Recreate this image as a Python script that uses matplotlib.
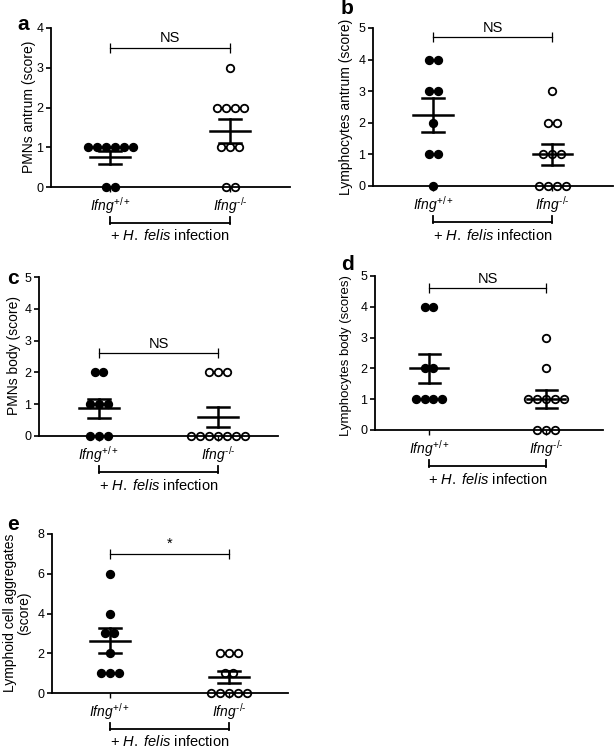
import numpy as np
import matplotlib
matplotlib.use("Agg")
import matplotlib.pyplot as plt
from matplotlib import transforms
from matplotlib.lines import Line2D

plt.rcParams['font.family'] = ['Liberation Sans', 'DejaVu Sans']
plt.rcParams['mathtext.fontset'] = 'custom'
plt.rcParams['mathtext.rm'] = 'Liberation Sans'
plt.rcParams['mathtext.it'] = 'Liberation Sans:italic'
plt.rcParams['mathtext.bf'] = 'Liberation Sans:bold'

# ---------------- data ----------------
groups = ["$\\mathit{Ifng}^{\\mathit{+/+}}$", "$\\mathit{Ifng}^{\\mathit{\u2010/\u2010}}$"]
infection_label = r"+ $\mathit{H.}$ $\mathit{felis}$ infection"

a_wt = [1, 1, 1, 1, 1, 1, 0, 0]
a_ko = [3, 2, 2, 2, 2, 1, 1, 1, 0, 0]
b_wt = [4, 4, 3, 3, 2, 1, 1, 0]
b_ko = [3, 2, 2, 1, 1, 1, 0, 0, 0, 0]
c_wt = [2, 2, 1, 1, 1, 0, 0, 0]
c_ko = [2, 2, 2, 0, 0, 0, 0, 0, 0, 0]
d_wt = [4, 4, 2, 2, 1, 1, 1, 1]
d_ko = [3, 2, 1, 1, 1, 1, 1, 0, 0, 0]
e_wt = [6, 4, 3, 3, 2, 1, 1, 1]
e_ko = [2, 2, 2, 1, 1, 0, 0, 0, 0, 0]

ylabels = ["PMNs antrum (score)", "Lymphocytes antrum (score)", "PMNs body (score)",
           "Lymphocytes body (scores)", "Lymphoid cell aggregates\n(score)"]
panel_letters = ["a", "b", "c", "d", "e"]
sig_labels = ["NS", "NS", "NS", "NS", "*"]
sig_heights = [3.5, 4.7, 2.6, 4.6, 7.0]
ymaxes = [4, 5, 5, 5, 8]
ytick_steps = [1, 1, 1, 1, 2]

W, H = 614, 749
fig = plt.figure(figsize=(W / 100, H / 100), dpi=100)

# axes pixel boxes: left, right, bottom(y of 0), top ; xlim
boxes = [
    (51, 290, 187, 28, (0.508, 2.5)),
    (373, 613, 186, 28, (0.496, 2.51)),
    (39, 278, 436, 277, (0.496, 2.504)),
    (375, 603, 430, 276, (0.538, 2.487)),
    (52, 288, 693, 534, (0.513, 2.496)),
]
ylabel_x = [29, 346, 14, 346, 17]
ylabel_y = [107, 107, 356, 356, 613]
ylabel_size = [10, 10, 10, 9.5, 10]
letter_pos = [(23, 25), (347, 9), (13, 278), (347, 265), (13, 524)]

datasets = [(a_wt, a_ko), (b_wt, b_ko), (c_wt, c_ko), (d_wt, d_ko), (e_wt, e_ko)]


def swarm_offsets(vals, d=0.075):
    vals = np.asarray(vals, dtype=float)
    offs = np.zeros_like(vals)
    for v in np.unique(vals):
        idx = np.where(vals == v)[0]
        n = len(idx)
        offs[idx] = (np.arange(n) - (n - 1) / 2) * d
    return offs


for i, ((wt, ko), box) in enumerate(zip(datasets, boxes)):
    l, r, b0, t, xl = box
    ax = fig.add_axes([l / W, 1 - b0 / H, (r - l) / W, (b0 - t) / H])
    ax.set_xlim(*xl)
    ax.set_ylim(0, ymaxes[i])
    for s in ['top', 'right']:
        ax.spines[s].set_visible(False)
    for s in ['left', 'bottom']:
        ax.spines[s].set_linewidth(1.3)
    ax.set_yticks(np.arange(0, ymaxes[i] + 0.01, ytick_steps[i]))
    ax.set_xticks([1, 2])
    ax.set_xticklabels(groups, fontsize=10)
    ax.tick_params(axis='y', length=3.5, width=1.2, labelsize=9, pad=2)
    ax.tick_params(axis='x', length=3.5, width=1.0, pad=2)

    for k, (vals, filled) in enumerate([(wt, True), (ko, False)]):
        xpos = 1 + k
        xs = xpos + swarm_offsets(vals)
        ax.plot(xs, vals, 'o', ms=5.4, mfc='black' if filled else 'none',
                mec='black', mew=1.3, ls='none', clip_on=False, zorder=3)
        arr = np.asarray(vals, float)
        m = arr.mean()
        sem = arr.std(ddof=1) / np.sqrt(len(arr))
        ax.plot([xpos - 0.165, xpos + 0.165], [m, m], color='black', lw=1.8, zorder=4)
        ax.plot([xpos - 0.09, xpos + 0.09], [m + sem, m + sem], color='black', lw=1.8, zorder=4)
        ax.plot([xpos - 0.09, xpos + 0.09], [m - sem, m - sem], color='black', lw=1.8, zorder=4)
        ax.plot([xpos, xpos], [m - sem, m + sem], color='black', lw=1.8, zorder=4)

    # significance bracket
    h = sig_heights[i]
    ax.plot([1, 2], [h, h], color='black', lw=0.9, clip_on=False)
    ax.plot([1, 2], [h, h], '|', color='black', ms=7, mew=0.9, clip_on=False)
    ax.annotate(sig_labels[i], xy=(1.5, h), xytext=(0, 2), textcoords='offset points',
                ha='center', va='bottom', fontsize=10.5)

    # infection bracket below the axis
    tr = ax.get_xaxis_transform()
    tr_br = transforms.offset_copy(tr, fig=fig, y=-36, units='dots')
    ax.plot([1, 2], [0, 0], transform=tr_br, color='black', lw=1.3, clip_on=False)
    for xx in (1, 2):
        x_disp = ax.transData.transform((xx, 0))[0]
        y_disp = ax.transAxes.transform((0, 0))[1]
        x_f = x_disp / fig.bbox.width
        y1 = (y_disp - 30) / fig.bbox.height
        y2 = (y_disp - 36.5) / fig.bbox.height
        fig.add_artist(Line2D([x_f, x_f], [y1, y2], transform=fig.transFigure,
                              color='black', lw=1.3))
    tr_txt = transforms.offset_copy(tr, fig=fig, y=-49, units='dots')
    ax.text(1.5, 0, infection_label, transform=tr_txt, ha='center', va='center',
            fontsize=10.5)

    # y label and panel letter
    fig.text(ylabel_x[i] / W, 1 - ylabel_y[i] / H, ylabels[i], rotation=90,
             ha='center', va='center', fontsize=ylabel_size[i], multialignment='center',
             linespacing=1.0)
    lx, ly = letter_pos[i]
    fig.text(lx / W, 1 - ly / H, panel_letters[i], ha='center', va='center',
             fontsize=15, fontweight='bold')

fig.savefig("out.png", dpi=100)
